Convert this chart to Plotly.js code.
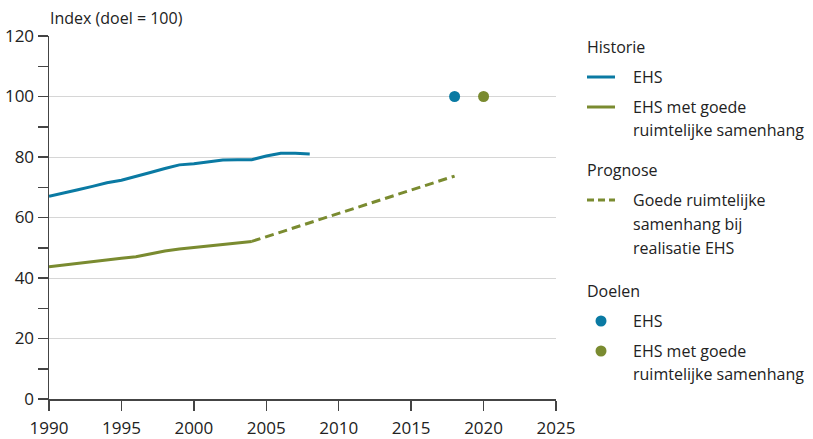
<!DOCTYPE html>
<html>
<head>
<meta charset="utf-8">
<script src="https://cdn.plot.ly/plotly-3.0.1.min.js"></script>
<style>html,body{margin:0;padding:0;background:#fff;}#chart{width:813px;height:439px;}</style>
</head>
<body>
<div id="chart"></div>
<script>
// Data
const yearsHist = [1990,1991,1992,1993,1994,1995,1996,1997,1998,1999,2000,2001,2002,2003,2004,2005,2006,2007,2008];
const ehsHist = [67.0,68.0,69.2,70.3,71.5,72.3,73.5,74.9,76.2,77.4,77.8,78.4,79.0,79.1,79.1,80.3,81.2,81.2,81.0];
const yearsSamen = [1990,1991,1992,1993,1994,1995,1996,1997,1998,1999,2000,2001,2002,2003,2004];
const samenHist = [43.7,44.3,44.9,45.5,46.1,46.5,47.0,48.0,48.9,49.6,50.1,50.7,51.2,51.7,52.1];
const yearsProg = [2004,2018];
const samenProg = [52.1,73.7];
const doelYearsEHS = [2018];
const doelEHS = [100];
const doelYearsSamen = [2020];
const doelSamen = [100];
const xTicks = [1990,1995,2000,2005,2010,2015,2020,2025];
const legendHeaders = ['Historie','Prognose','Doelen'];

const blue = '#0a7aa3';
const green = '#7a8b30';
const txt = '#222222';
const font = 'Open Sans, sans-serif';
const fs = 16;
const tfs = 17;

const W = 813, H = 439, ML = 49, MR = 257, MT = 36, MB = 40;
const PW = W - ML - MR, PH = H - MT - MB;
const px = v => (v - ML) / PW;           // pixel x -> paper
const py = v => (H - MB - v) / PH;        // pixel y -> paper

const traces = [
  {x: yearsHist, y: ehsHist, type:'scatter', mode:'lines', name:'EHS', line:{color:blue, width:3}},
  {x: yearsSamen, y: samenHist, type:'scatter', mode:'lines', name:'EHS met goede ruimtelijke samenhang', line:{color:green, width:3}},
  {x: yearsProg, y: samenProg, type:'scatter', mode:'lines', name:'Goede ruimtelijke samenhang bij realisatie EHS', line:{color:green, width:3, dash:'9px,5px'}},
  {x: doelYearsEHS, y: doelEHS, type:'scatter', mode:'markers', name:'EHS (doel)', marker:{color:blue, size:11}},
  {x: doelYearsSamen, y: doelSamen, type:'scatter', mode:'markers', name:'EHS met goede ruimtelijke samenhang (doel)', marker:{color:green, size:11}}
];

function label(text, xPix, yPix) {
  return {text:text, xref:'paper', yref:'paper', x:px(xPix), y:py(yPix), xanchor:'left', yanchor:'middle',
          showarrow:false, font:{family:font, size:fs, color:txt}};
}
const annotations = [
  {text:'Index (doel = 100)', xref:'paper', yref:'paper', x:0, y:py(18), xanchor:'left', yanchor:'middle',
   xshift:-1, showarrow:false, font:{family:font, size:fs, color:txt}},
  label(legendHeaders[0], 585, 47),
  label('EHS', 631, 77),
  label('EHS met goede', 631, 107),
  label('ruimtelijke samenhang', 631, 130),
  label(legendHeaders[1], 585, 170),
  label('Goede ruimtelijke', 631, 200),
  label('samenhang bij', 631, 224),
  label('realisatie EHS', 631, 248),
  label(legendHeaders[2], 585, 291),
  label('EHS', 631, 321),
  label('EHS met goede', 631, 351),
  label('ruimtelijke samenhang', 631, 374)
];

const shapes = [
  {type:'line', xref:'paper', yref:'paper', x0:px(587), x1:px(615), y0:py(77), y1:py(77), line:{color:blue, width:3}},
  {type:'line', xref:'paper', yref:'paper', x0:px(587), x1:px(615), y0:py(107), y1:py(107), line:{color:green, width:3}},
  {type:'line', xref:'paper', yref:'paper', x0:px(587), x1:px(615), y0:py(200), y1:py(200), line:{color:green, width:3, dash:'7px,4px'}},
  {type:'circle', xref:'paper', yref:'paper', xsizemode:'pixel', ysizemode:'pixel', xanchor:px(601), yanchor:py(321),
   x0:-5.5, x1:5.5, y0:-5.5, y1:5.5, fillcolor:blue, line:{width:0}},
  {type:'circle', xref:'paper', yref:'paper', xsizemode:'pixel', ysizemode:'pixel', xanchor:px(601), yanchor:py(351),
   x0:-5.5, x1:5.5, y0:-5.5, y1:5.5, fillcolor:green, line:{width:0}}
];

const layout = {
  width: W, height: H,
  margin: {l:ML, r:MR, t:MT, b:MB},
  paper_bgcolor:'#fff', plot_bgcolor:'#fff',
  font: {family: font, size: fs, color: txt},
  showlegend: false,
  xaxis: {range:[1990,2025], tickvals:xTicks,
          ticks:'outside', ticklen:10, tickcolor:'#444', tickwidth:1.5, ticklabelstandoff:3,
          showline:true, linecolor:'#444', linewidth:1.5, showgrid:false, zeroline:false,
          tickfont:{family:font, size:tfs, color:txt}, fixedrange:true},
  yaxis: {range:[0,120], dtick:20, tick0:0, ticks:'outside', ticklen:10, tickcolor:'#444', tickwidth:1.5,
          showline:true, linecolor:'#444', linewidth:1.5, showgrid:true, gridcolor:'#d6d6d6', gridwidth:1,
          zeroline:false, tickfont:{family:font, size:tfs, color:txt},
          minor:{dtick:10, ticks:'outside', ticklen:10, tickcolor:'#444', tickwidth:1.5, showgrid:false},
          fixedrange:true},
  annotations: annotations,
  shapes: shapes
};

Plotly.newPlot('chart', traces, layout, {displayModeBar:false, staticPlot:true});
</script>
</body>
</html>
